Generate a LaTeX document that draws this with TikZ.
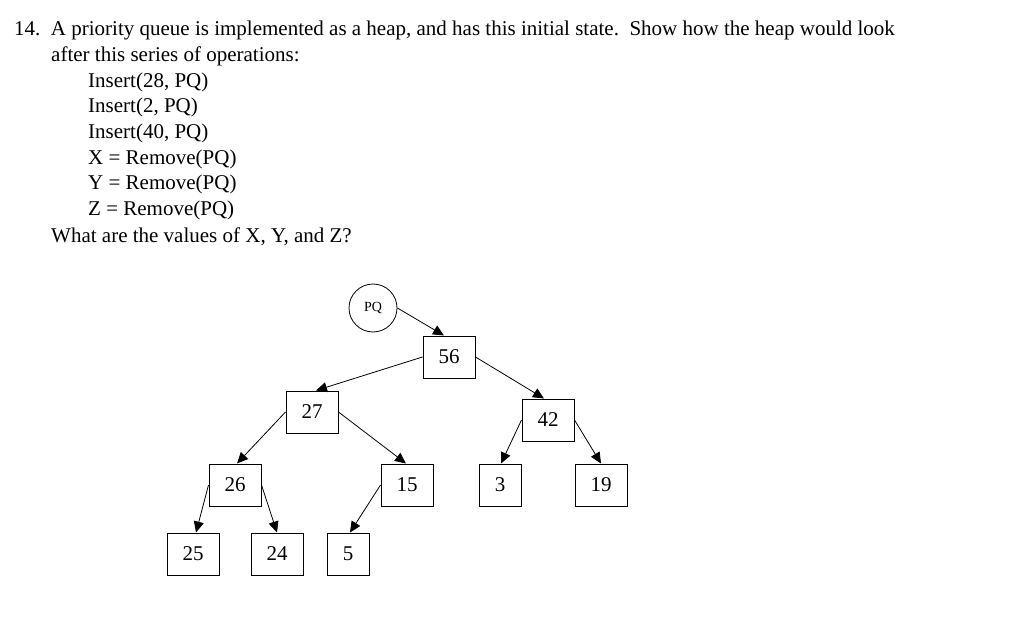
\documentclass[tikz,border=0pt]{standalone}
\usepackage{fontspec}
\setmainfont{Liberation Serif}
\usetikzlibrary{arrows.meta}
\begin{document}
\begin{tikzpicture}[x=1pt,y=-1pt,
  box/.style={draw,line width=1pt,minimum width=52pt,minimum height=42pt,inner sep=0pt,font=\fontsize{21}{21}\selectfont},
  sbox/.style={box,minimum width=42pt},
  txt/.style={anchor=base west,inner sep=0pt,font=\fontsize{21}{21}\selectfont},
  arr/.style={-{Triangle[length=11pt,width=10pt]},line width=0.8pt}]
\useasboundingbox (0,0) rectangle (1024,620);
\node[txt] (t1) at (14,36) {14.\ \ A priority queue is implemented as a heap, and has this initial state.\ \ Show how the heap would look};
\node[txt] (t2) at (51,62) {after this series of operations:};
\node[txt] (t3) at (88,88) {Insert(28, PQ)};
\node[txt] (t4) at (88,113) {Insert(2, PQ)};
\node[txt] (t5) at (88,139) {Insert(40, PQ)};
\node[txt] (t6) at (88,165) {X = Remove(PQ)};
\node[txt] (t7) at (88,190) {Y = Remove(PQ)};
\node[txt] (t8) at (88,216) {Z = Remove(PQ)};
\node[txt] (t9) at (51,242) {What are the values of X, Y, and Z?};
\node[draw,circle,line width=0.8pt,minimum size=48pt,inner sep=0pt,font=\fontsize{14}{14}\selectfont] (pq) at (373,308) {PQ};
\node[box] (n56) at (449,357) {56};
\node[box] (n27) at (312,412) {27};
\node[box] (n42) at (548,420) {42};
\node[box] (n26) at (235,485) {26};
\node[box] (n15) at (407,485) {15};
\node[sbox] (n3) at (500,485) {3};
\node[box] (n19) at (601,485) {19};
\node[box] (n25) at (193,554) {25};
\node[box] (n24) at (277,554) {24};
\node[sbox] (n5) at (348,554) {5};
\draw[arr] (pq.east) -- ([xshift=-5pt]n56.north);
\draw[arr] (n56.west) -- ([xshift=4pt]n27.north);
\draw[arr] (n56.east) -- ([xshift=-4pt]n42.north);
\draw[arr] (n27.west) -- ([xshift=2pt]n26.north);
\draw[arr] (n27.east) -- ([xshift=-1pt]n15.north);
\draw[arr] (n26.west) -- ([xshift=3pt]n25.north);
\draw[arr] (n26.east) -- (n24.north);
\draw[arr] (n15.west) -- ([xshift=2pt]n5.north);
\draw[arr] (n42.west) -- ([xshift=1pt]n3.north);
\draw[arr] (n42.east) -- (n19.north);
\end{tikzpicture}
\end{document}
